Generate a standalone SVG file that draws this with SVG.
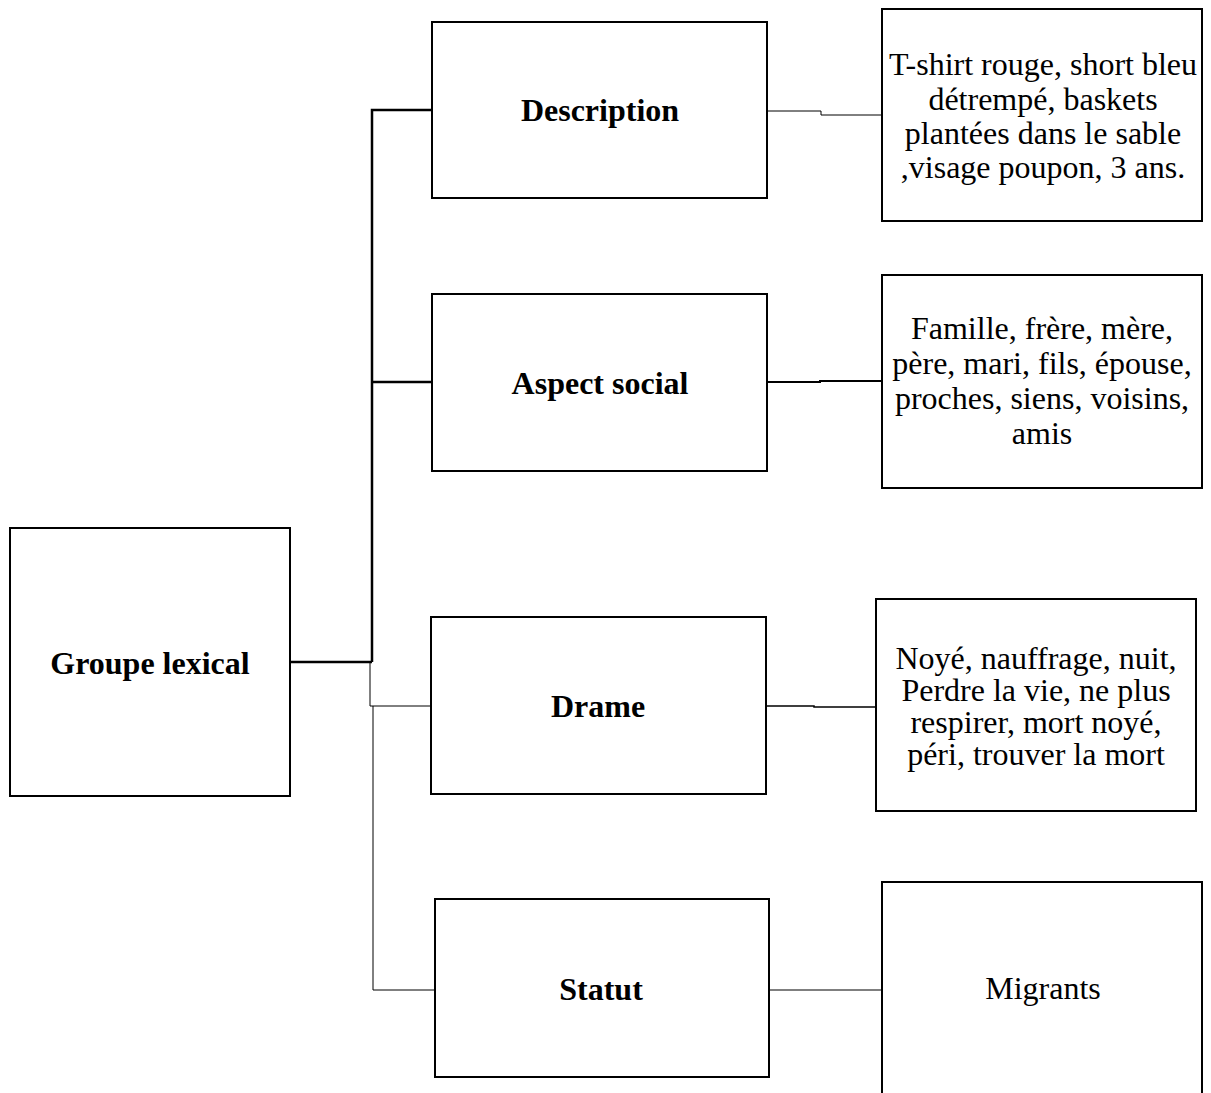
<svg xmlns="http://www.w3.org/2000/svg" width="1211" height="1093" viewBox="0 0 1211 1093">
<style>
.box{fill:#fff;stroke:#000;stroke-width:2}
.lbl{font-family:"Liberation Serif",serif;font-weight:bold;font-size:32px;text-anchor:middle;dominant-baseline:central}
.txt{font-family:"Liberation Serif",serif;font-size:32px;text-anchor:middle}
.c{fill:none;stroke:#000}
</style>
<rect width="1211" height="1093" fill="#fff"/>
<g id="connectors">
<path class="c" stroke-width="2.5" d="M290 662H372M372 662V110H432M372 382H432"/>
<path class="c" stroke-width="1" d="M370 662V706H431M373 706V990H435"/>
<path class="c" stroke-width="1" d="M767 111H821V115H882"/>
<path class="c" stroke-width="2" d="M767 382H820V381H882"/>
<path class="c" stroke-width="1.5" d="M766 706H814V707H876"/>
<path class="c" stroke-width="1.2" d="M769 990H882"/>
</g>
<g id="groupe"><rect class="box" x="10" y="528" width="280" height="268"/><text class="lbl" x="150" y="663">Groupe lexical</text></g>
<g id="description"><rect class="box" x="432" y="22" width="335" height="176"/><text class="lbl" x="600" y="110">Description</text></g>
<g id="aspect"><rect class="box" x="432" y="294" width="335" height="177"/><text class="lbl" x="600" y="383">Aspect social</text></g>
<g id="drame"><rect class="box" x="431" y="617" width="335" height="177"/><text class="lbl" x="598" y="706">Drame</text></g>
<g id="statut"><rect class="box" x="435" y="899" width="334" height="178"/><text class="lbl" x="601" y="989">Statut</text></g>
<g id="desc-detail"><rect class="box" x="882" y="9" width="320" height="212"/>
<text class="txt" x="1043" y="75">T-shirt rouge, short bleu</text>
<text class="txt" x="1043" y="110">détrempé, baskets</text>
<text class="txt" x="1043" y="144">plantées dans le sable</text>
<text class="txt" x="1043" y="178">,visage poupon, 3 ans.</text></g>
<g id="aspect-detail"><rect class="box" x="882" y="275" width="320" height="213"/>
<text class="txt" x="1042" y="339">Famille, frère, mère,</text>
<text class="txt" x="1042" y="374">père, mari, fils, épouse,</text>
<text class="txt" x="1042" y="409">proches, siens, voisins,</text>
<text class="txt" x="1042" y="444">amis</text></g>
<g id="drame-detail"><rect class="box" x="876" y="599" width="320" height="212"/>
<text class="txt" x="1036" y="669">Noyé, nauffrage, nuit,</text>
<text class="txt" x="1036" y="701">Perdre la vie, ne plus</text>
<text class="txt" x="1036" y="733">respirer, mort noyé,</text>
<text class="txt" x="1036" y="765">péri, trouver la mort</text></g>
<g id="statut-detail"><rect class="box" x="882" y="882" width="320" height="220"/>
<text class="txt" x="1043" y="999">Migrants</text></g>
</svg>
